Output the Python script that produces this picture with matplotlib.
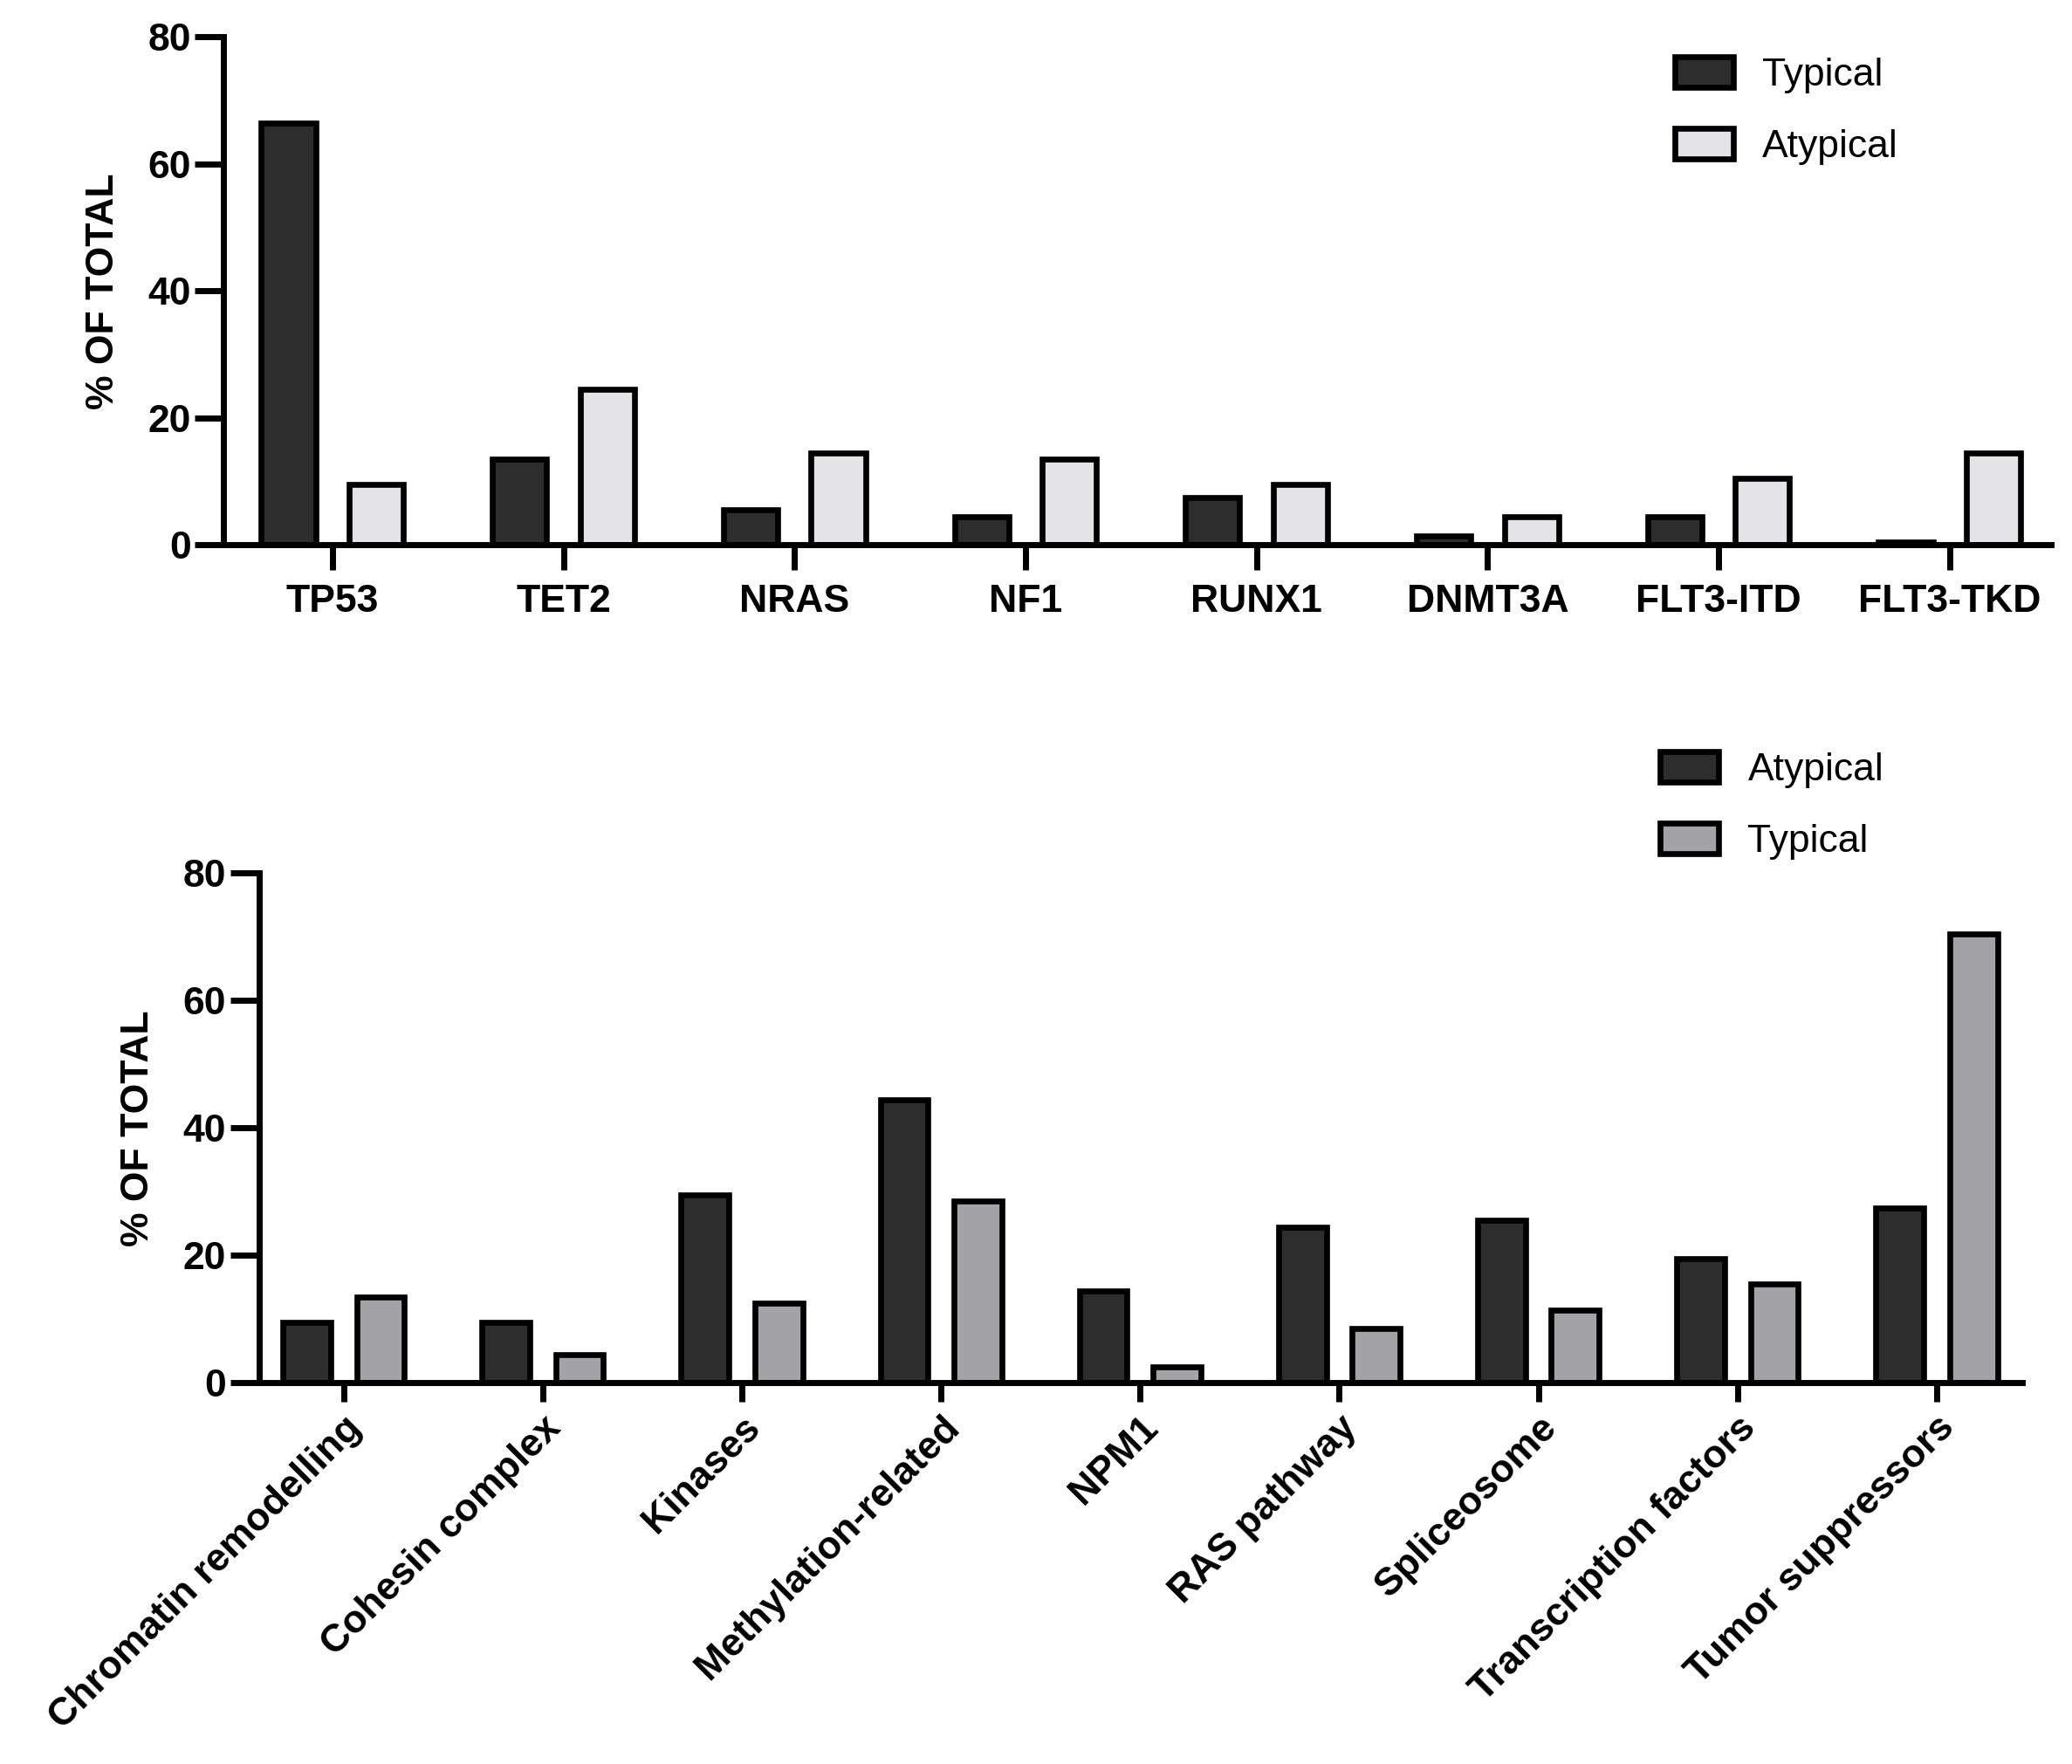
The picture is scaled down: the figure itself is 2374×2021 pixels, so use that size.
import numpy as np
import matplotlib
matplotlib.use("Agg")
import matplotlib.pyplot as plt

plt.rcParams['font.family'] = ['Liberation Sans', 'DejaVu Sans']

### data, top panel (genes)
genes = ["TP53", "TET2", "NRAS", "NF1", "RUNX1", "DNMT3A", "FLT3-ITD", "FLT3-TKD"]
gene_typical = [66.5, 13.5, 5.5, 4.5, 7.5, 1.5, 4.5, 0.5]
gene_atypical = [9.5, 24.5, 14.5, 13.5, 9.5, 4.5, 10.5, 14.5]

### data, bottom panel (pathways)
pathways = ["Chromatin remodelling", "Cohesin complex", "Kinases", "Methylation-related",
            "NPM1", "RAS pathway", "Spliceosome", "Transcription factors", "Tumor suppressors"]
path_atypical = [9.5, 9.5, 29.5, 44.5, 14.5, 24.5, 25.5, 19.5, 27.5]
path_typical = [13.5, 4.5, 12.5, 28.5, 2.5, 8.5, 11.5, 15.5, 70.5]

DARK = "#2d2d2d"
LIGHT = "#e4e4e6"
MID = "#a3a3a7"
FS = 32
LW = 5
BLW = 4.8

def style_axes(ax):
    for s in ["top", "right"]:
        ax.spines[s].set_visible(False)
    for s in ["left", "bottom"]:
        ax.spines[s].set_linewidth(LW)
    ax.set_ylim(0, 80)
    ax.set_yticks([0, 20, 40, 60, 80])
    ax.tick_params(axis="y", length=24, width=LW, pad=3, labelsize=FS)
    ax.tick_params(axis="x", length=21, width=LW, labelsize=FS)
    for lab in ax.get_yticklabels():
        lab.set_fontweight("bold")
    ax.set_ylabel("% OF TOTAL", fontsize=FS, fontweight="bold", labelpad=22)

def add_legend(ax, anchor):
    ax.legend(loc="upper left", bbox_to_anchor=anchor, bbox_transform=fig.transFigure,
              frameon=False, fontsize=FS, borderpad=0, handlelength=1.5, handleheight=0.85,
              handletextpad=0.75, labelspacing=0.9)

fig = plt.figure(figsize=(23.74, 20.21), dpi=100)

### top panel
ax1 = fig.add_axes([0.108, 0.691, 0.882, 0.288])
x = np.arange(len(genes))
w = 0.235
off = 0.19
ax1.bar(x - off, gene_typical, w, color=DARK, edgecolor="black", linewidth=BLW, label="Typical")
ax1.bar(x + off, gene_atypical, w, color=LIGHT, edgecolor="black", linewidth=BLW, label="Atypical")
ax1.set_xlim(-0.47, len(genes) - 1 + 0.44)
style_axes(ax1)
ax1.set_xticks(x)
ax1.set_xticklabels(genes, fontweight="bold")
ax1.tick_params(axis="x", pad=11)
add_legend(ax1, (0.799, 0.979))

### bottom panel
ax2 = fig.add_axes([0.125, 0.216, 0.851, 0.289])
x2 = np.arange(len(pathways))
w2 = 0.24
off2 = 0.185
ax2.bar(x2 - off2, path_atypical, w2, color=DARK, edgecolor="black", linewidth=BLW, label="Atypical")
ax2.bar(x2 + off2, path_typical, w2, color=MID, edgecolor="black", linewidth=BLW, label="Typical")
ax2.set_xlim(-0.425, len(pathways) - 1 + 0.43)
style_axes(ax2)
ax2.set_xticks(x2)
ax2.set_xticklabels(pathways, fontweight="bold", rotation=45, ha="right", rotation_mode="anchor")
ax2.tick_params(axis="x", length=16, pad=6)
add_legend(ax2, (0.792, 0.585))

fig.savefig("out.png", dpi=100)
